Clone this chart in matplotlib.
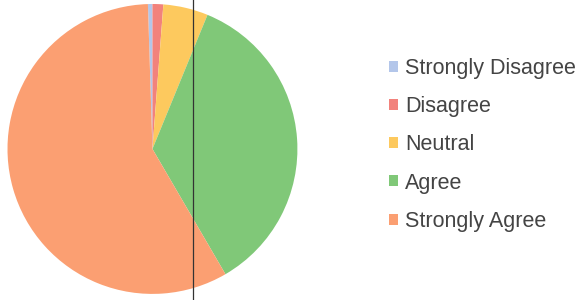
import matplotlib
matplotlib.use("Agg")
import matplotlib.pyplot as plt
from matplotlib.lines import Line2D

labels = ["Strongly Disagree", "Disagree", "Neutral", "Agree", "Strongly Agree"]
shares = [0.5, 1.2, 5.0, 35.4, 57.9]
colors = ["#b3c6ea", "#f2827c", "#fdc95e", "#80c878", "#fb9f72"]

plt.rcParams["font.family"] = ["Liberation Sans", "DejaVu Sans"]

fig = plt.figure(figsize=(5.81, 3.0), dpi=100)
ax = fig.add_axes([0.0129, 0.02, 0.499, 0.967])
wedges, _ = ax.pie(shares, colors=colors, startangle=91.8, counterclock=False,
                   wedgeprops=dict(edgecolor="none", linewidth=0))
ax.set_xlim(-1, 1)
ax.set_ylim(-1, 1)
ax.set_aspect("equal")

# thin vertical rule across the whole picture
fig.add_artist(Line2D([193 / 581, 193 / 581], [0, 1], transform=fig.transFigure,
                      color="#333333", linewidth=0.9))

fig.legend(wedges, labels, loc="upper left", bbox_to_anchor=(0.67, 0.807),
           frameon=False, fontsize=15.5, handlelength=0.42, handleheight=0.42,
           handletextpad=0.32, labelspacing=0.8, labelcolor="#444444",
           borderaxespad=0, borderpad=0)

fig.savefig("out.png", dpi=100)
